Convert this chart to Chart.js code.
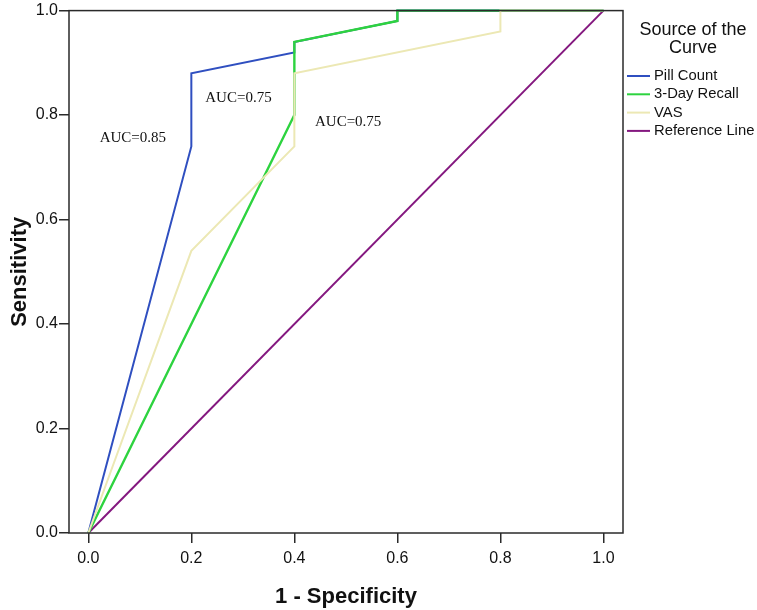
<!DOCTYPE html>
<html>
<head>
<meta charset="utf-8">
<script src="https://cdn.jsdelivr.net/npm/chart.js@4.4.1/dist/chart.umd.min.js"></script>
<style>
  html, body { margin: 0; padding: 0; background: #fff; }
  #wrap { width: 757px; height: 610px; }
</style>
</head>
<body>
<div id="wrap"><canvas id="roc"></canvas></div>
<script>
// ROC curves
const seriesNames = ['Pill Count', '3-Day Recall', 'VAS', 'Reference Line'];
const seriesColors = ['#2f4fc0', '#2dd33f', '#ece8b4', '#84187f'];

const pillX = [0, 0.2, 0.2, 0.4, 0.4, 0.6, 0.6, 1.0];
const pillY = [0, 0.74, 0.88, 0.92, 0.94, 0.98, 1.0, 1.0];
const recallX = [0, 0.4, 0.4, 0.6, 0.6, 1.0];
const recallY = [0, 0.80, 0.94, 0.98, 1.0, 1.0];
const vasX = [0, 0.2, 0.4, 0.4, 0.8, 0.8, 1.0];
const vasY = [0, 0.54, 0.74, 0.88, 0.96, 1.0, 1.0];
const refX = [0, 1];
const refY = [0, 1];

const xTicks = [0, 0.2, 0.4, 0.6, 0.8, 1.0];
const yTicks = [0, 0.2, 0.4, 0.6, 0.8, 1.0];

// AUC labels (left edge / middle, in data units)
const aucText = ['AUC=0.85', 'AUC=0.75', 'AUC=0.75'];
const aucX = [0.022, 0.227, 0.44];
const aucY = [0.756, 0.832, 0.787];

const SANS = '"Liberation Sans", Arial, sans-serif';

function pts(xs, ys) {
    return xs.map((x, i) => ({x: x, y: ys[i]}));
}

// plot frame + AUC text + legend, all drawn on canvas
const extras = {
    id: 'extras',
    afterDraw(chart) {
        const ctx = chart.ctx;
        const a = chart.chartArea;
        const xs = chart.scales.x, ys = chart.scales.y;
        ctx.save();
        ctx.strokeStyle = '#2a2a2a';
        ctx.lineWidth = 1.5;
        ctx.strokeRect(a.left, a.top, a.right - a.left, a.bottom - a.top);

        ctx.fillStyle = '#111';
        ctx.font = '15px "Liberation Serif", "Times New Roman", serif';
        ctx.textBaseline = 'middle';
        ctx.textAlign = 'left';
        for (let i = 0; i < aucText.length; i++) {
            ctx.fillText(aucText[i], xs.getPixelForValue(aucX[i]), ys.getPixelForValue(aucY[i]));
        }

        // legend
        ctx.textAlign = 'center';
        ctx.font = '18px ' + SANS;
        ctx.fillText('Source of the', 693, 30);
        ctx.fillText('Curve', 693, 48);
        ctx.textAlign = 'left';
        ctx.font = '14.8px ' + SANS;
        for (let i = 0; i < seriesNames.length; i++) {
            const y = 76 + i * 18.3;
            ctx.strokeStyle = seriesColors[i];
            ctx.lineWidth = 2;
            ctx.beginPath();
            ctx.moveTo(627, y);
            ctx.lineTo(650, y);
            ctx.stroke();
            ctx.fillStyle = '#111';
            ctx.fillText(seriesNames[i], 654, y);
        }
        ctx.restore();
    }
};

// order: lower number is drawn on top (VAS over recall over pill count)
const ds = [
    {label: seriesNames[0], data: pts(pillX, pillY), order: 3, borderWidth: 2},
    {label: seriesNames[1], data: pts(recallX, recallY), order: 2, borderWidth: 2.4},
    {label: seriesNames[2], data: pts(vasX, vasY), order: 1, borderWidth: 2},
    {label: seriesNames[3], data: pts(refX, refY), order: 4, borderWidth: 2}
].map((d, i) => Object.assign(d, {
    borderColor: seriesColors[i],
    backgroundColor: seriesColors[i],
    pointRadius: 0,
    tension: 0,
    fill: false,
    clip: false
}));

new Chart(document.getElementById('roc'), {
    type: 'line',
    data: {datasets: ds},
    plugins: [extras],
    options: {
        responsive: true,
        maintainAspectRatio: false,
        animation: false,
        layout: {padding: {top: 9, right: 134, left: 0, bottom: 0}},
        plugins: {
            legend: {display: false},
            tooltip: {enabled: false}
        },
        scales: {
            x: {
                type: 'linear',
                min: -0.0375,
                max: 1.038,
                afterBuildTicks: s => { s.ticks = xTicks.map(v => ({value: v})); },
                afterFit: s => { s.height = 77; },
                border: {display: false},
                grid: {drawOnChartArea: false, drawTicks: true, tickLength: 10, color: '#2a2a2a', lineWidth: 1.5},
                ticks: {
                    color: '#111',
                    font: {family: SANS, size: 16},
                    padding: 6,
                    maxRotation: 0,
                    callback: v => v.toFixed(1)
                },
                title: {
                    display: true,
                    text: '1 - Specificity',
                    color: '#111',
                    font: {family: SANS, size: 22, weight: 'bold'},
                    padding: {top: 4, bottom: 0}
                }
            },
            y: {
                type: 'linear',
                min: 0,
                max: 1,
                afterBuildTicks: s => { s.ticks = yTicks.map(v => ({value: v})); },
                afterFit: s => { s.width = 69; },
                border: {display: false},
                grid: {drawOnChartArea: false, drawTicks: true, tickLength: 10, color: '#2a2a2a', lineWidth: 1.5},
                ticks: {
                    color: '#111',
                    font: {family: SANS, size: 16},
                    padding: 1,
                    callback: v => v.toFixed(1)
                },
                title: {
                    display: true,
                    text: 'Sensitivity',
                    color: '#111',
                    font: {family: SANS, size: 22, weight: 'bold'},
                    padding: {top: 7, bottom: 0}
                }
            }
        }
    }
});
</script>
</body>
</html>
